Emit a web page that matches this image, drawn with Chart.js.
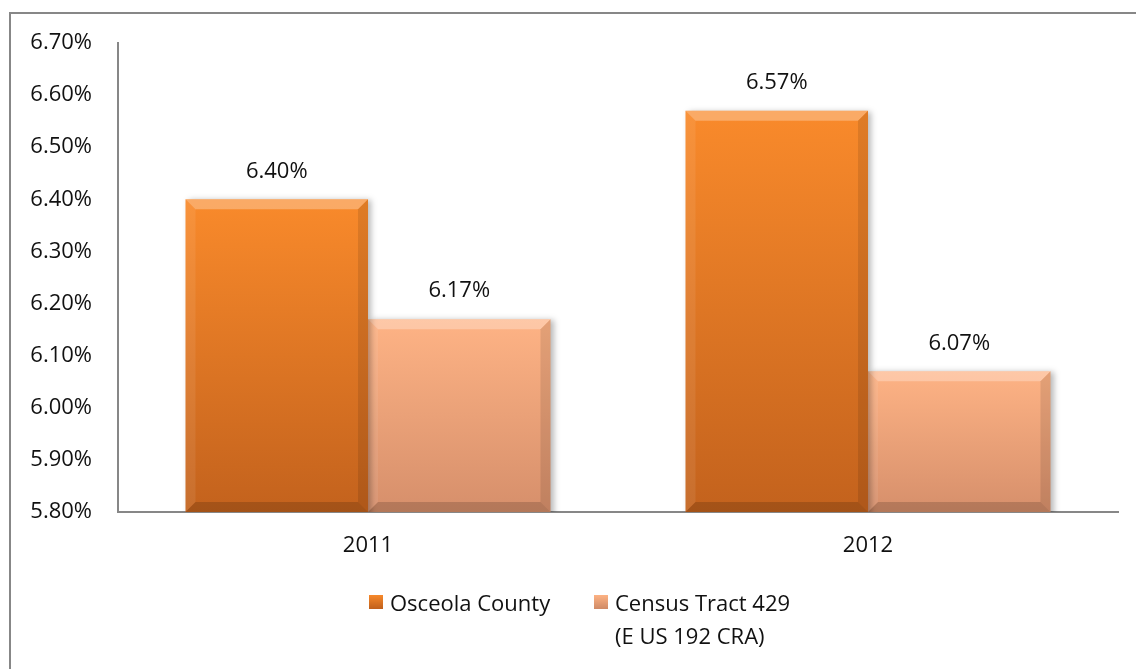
<!DOCTYPE html>
<html>
<head>
<meta charset="utf-8">
<script src="https://cdn.jsdelivr.net/npm/chart.js@4.4.1/dist/chart.umd.min.js"></script>
<style>
  html, body { margin: 0; padding: 0; background: #fff; }
  #wrap { position: relative; width: 1136px; height: 669px; overflow: hidden; font-family: "Open Sans", sans-serif; }
  #frame { position: absolute; left: 9px; top: 12px; width: 1140px; height: 680px; border-left: 2px solid #878787; border-top: 2px solid #878787; box-sizing: border-box; }
  #chartBox { position: absolute; left: 0; top: 0; width: 1136px; height: 669px; }
  .lg { position: absolute; font-size: 22px; color: #111; line-height: 33px; }
  .lg .box { position: absolute; left: 0; top: 9px; width: 14px; height: 14px; }
  .lg .txt { position: absolute; left: 21px; top: 0; white-space: nowrap; }
</style>
</head>
<body>
<div id="wrap">
  <div id="frame"></div>
  <div id="chartBox"><canvas id="rateChart" width="1136" height="669"></canvas></div>
  <div class="lg" id="lg0" style="left:369px; top:586px;">
    <div class="box" style="background:linear-gradient(#f7892b,#c0601c);"></div>
    <div class="txt">Osceola County</div>
  </div>
  <div class="lg" id="lg1" style="left:594px; top:586px;">
    <div class="box" style="background:linear-gradient(#fdb283,#cf8a66);"></div>
    <div class="txt">Census Tract 429<br>(E US 192 CRA)</div>
  </div>
</div>
<script>
// data
const years = ["2011", "2012"];
const osceolaCounty = [6.40, 6.57];
const censusTract429 = [6.17, 6.07];
const yMin = 5.8;
const yMax = 6.7;
const yStep = 0.1;

// vertical gradient for each bar, from its top down to the axis
function barGradient(top, bottom) {
  return (ctx) => {
    const chart = ctx.chart;
    if (!chart.chartArea || ctx.type !== "data") return top;
    const yScale = chart.scales.y;
    const y0 = yScale.getPixelForValue(ctx.raw);
    const y1 = yScale.getPixelForValue(yMin);
    const g = chart.ctx.createLinearGradient(0, y0, 0, y1);
    g.addColorStop(0, top);
    g.addColorStop(1, bottom);
    return g;
  };
}

// bevel edges + soft shadow like the office chart
const bevelPlugin = {
  id: "bevel",
  beforeDatasetDraw(chart) {
    const c = chart.ctx;
    c.save();
    c.shadowColor = "rgba(0,0,0,0.28)";
    c.shadowBlur = 6;
    c.shadowOffsetX = 3;
    c.shadowOffsetY = 1;
  },
  afterDatasetDraw(chart, args) {
    const c = chart.ctx;
    c.restore();
    const b = 10;
    const area = chart.chartArea;
    args.meta.data.forEach((bar) => {
      const l = bar.x - bar.width / 2, r = bar.x + bar.width / 2;
      const t = bar.y, btm = Math.min(bar.base, area.bottom);
      const poly = (pts, col) => {
        c.beginPath();
        c.moveTo(pts[0][0], pts[0][1]);
        pts.slice(1).forEach((p) => c.lineTo(p[0], p[1]));
        c.closePath();
        c.fillStyle = col;
        c.fill();
      };
      c.save();
      poly([[l, t], [r, t], [r - b, t + b], [l + b, t + b]], "rgba(255,255,255,0.28)");
      poly([[l, t], [l + b, t + b], [l + b, btm - b], [l, btm]], "rgba(255,255,255,0.08)");
      poly([[r, t], [r, btm], [r - b, btm - b], [r - b, t + b]], "rgba(0,0,0,0.10)");
      poly([[l, btm], [l + b, btm - b], [r - b, btm - b], [r, btm]], "rgba(0,0,0,0.16)");
      c.restore();
    });
  }
};

// value labels above the bars
const valueLabels = {
  id: "valueLabels",
  afterDatasetsDraw(chart) {
    const c = chart.ctx;
    c.save();
    c.font = "22px 'Open Sans', sans-serif";
    c.fillStyle = "#111";
    c.textAlign = "center";
    c.textBaseline = "middle";
    chart.data.datasets.forEach((ds, i) => {
      chart.getDatasetMeta(i).data.forEach((bar, j) => {
        c.fillText(ds.data[j].toFixed(2) + "%", bar.x, bar.y - 28);
      });
    });
    c.restore();
  }
};

const ctx = document.getElementById("rateChart").getContext("2d");
new Chart(ctx, {
  type: "bar",
  data: {
    labels: years,
    datasets: [
      {
        label: "Osceola County",
        data: osceolaCounty,
        backgroundColor: barGradient("#f98a2b", "#c3621d"),
        borderWidth: 0
      },
      {
        label: "Census Tract 429 (E US 192 CRA)",
        data: censusTract429,
        backgroundColor: barGradient("#feb385", "#d68f6b"),
        borderWidth: 0
      }
    ]
  },
  options: {
    responsive: false,
    animation: false,
    maintainAspectRatio: false,
    layout: { padding: { left: 0, right: 18, top: 43, bottom: 0 } },
    datasets: {
      bar: { categoryPercentage: 0.73, barPercentage: 1.0 }
    },
    plugins: {
      legend: { display: false },
      tooltip: { enabled: false }
    },
    scales: {
      x: {
        grid: { display: false, drawTicks: false },
        border: { display: true, color: "#878787", width: 2 },
        ticks: { color: "#111", font: { family: "'Open Sans', sans-serif", size: 22 }, padding: 21 },
        afterFit: (scale) => { scale.height = 157; }
      },
      y: {
        min: yMin,
        max: yMax,
        grid: { display: false, drawTicks: false },
        border: { display: true, color: "#878787", width: 2 },
        ticks: {
          stepSize: yStep,
          color: "#111",
          padding: 26,
          font: { family: "'Open Sans', sans-serif", size: 22 },
          callback: (v) => Number(v).toFixed(2) + "%"
        },
        afterFit: (scale) => { scale.width = 118; }
      }
    }
  },
  plugins: [bevelPlugin, valueLabels]
});
</script>
</body>
</html>
